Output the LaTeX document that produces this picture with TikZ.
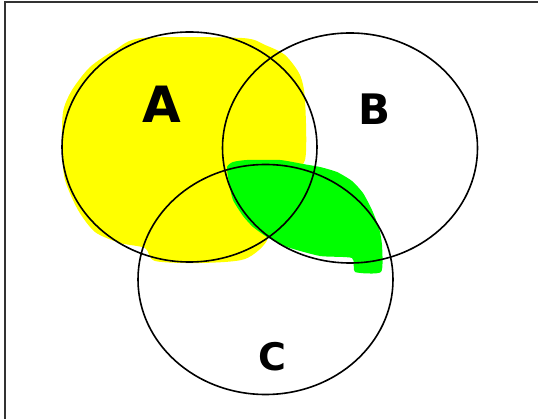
\documentclass[tikz,border=0pt]{standalone}
\usepackage{fontspec}
\setmainfont{DejaVu Sans}
\usetikzlibrary{shapes.geometric}
\definecolor{hlyellow}{RGB}{255,255,0}
\definecolor{hlgreen}{RGB}{0,255,0}
\tikzset{
  setcircle/.style={ellipse, draw=black, line width=1.6pt, minimum width=255pt, minimum height=230pt, inner sep=0pt},
  setlabel/.style={inner sep=0pt, font=\bfseries},
  frameline/.style={draw=black!80, line width=2pt},
}
\begin{document}
\begin{tikzpicture}[x=1pt, y=-1pt]
\useasboundingbox (0,0) rectangle (538,419);
% highlighter paint
\fill[hlyellow] plot[smooth cycle, tension=0.45] coordinates {
 (142,38) (242,38) (265,45) (285,55) (300,75) (305,100) (305,160)
 (285,175) (262,200) (268,238) (245,259) (200,263) (155,261) (145,248)
 (120,243) (95,232) (78,210) (65,180) (62,150) (63,112) (72,90) (90,67) (115,50)};
\fill[hlgreen] plot[smooth cycle, tension=0.35] coordinates {
 (233,162) (247,160) (280,160) (303,164) (320,167) (337,172) (352,181)
 (363,193) (372,210) (379,228) (382,245) (381,272) (355,272) (352,258)
 (320,256) (287,247) (267,237) (253,227) (243,216) (233,200) (229,183) (227,167)};
% sets
\node[setcircle] (A) at (189.5,147) {};
\node[setcircle] (B) at (350,148) {};
\node[setcircle] (C) at (265.5,279.5) {};
% labels
\node[setlabel, font=\bfseries\fontsize{50}{50}\selectfont] (la) at (162,104) {A};
\node[setlabel, font=\bfseries\fontsize{42}{42}\selectfont] (lb) at (375,109) {B};
\node[setlabel, font=\bfseries\fontsize{38}{38}\selectfont] (lc) at (272,357) {C};
% frame (top and left edges)
\coordinate (tl) at (5,2);
\coordinate (tr) at (538,2);
\coordinate (bl) at (5,419);
\draw[frameline] (bl) -- (tl) -- (tr);
\end{tikzpicture}
\end{document}
